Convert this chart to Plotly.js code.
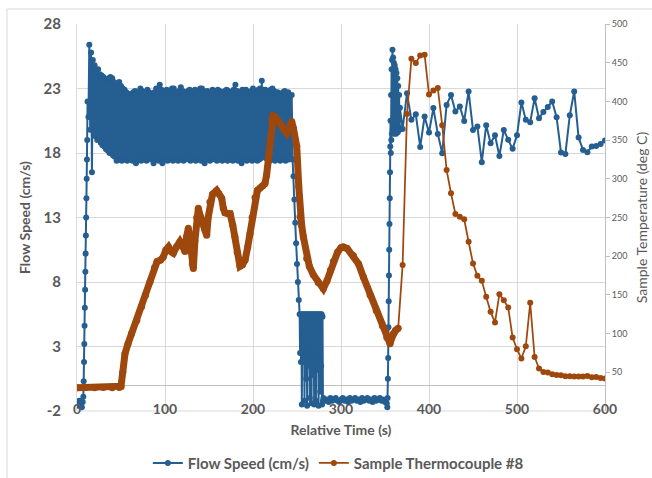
<!DOCTYPE html>
<html>
<head>
<meta charset="utf-8">
<script src="https://cdn.plot.ly/plotly-3.0.1.min.js"></script>
<style>html,body{margin:0;padding:0;background:#fff;}#chart{width:652px;height:478px;}</style>
</head>
<body>
<div id="chart"></div>
<script>
// ---- Flow speed (cm/s), left axis ----
const startTime = [0.5,1.5,2.5,3.5,4.5,5.5,6.5,7.2,7.6,8,8.3,8.6,8.9,9.2,9.5,9.8,10.1,10.4,10.7,11,11.3,11.6];
const startSpeed = [-1.3,-1.6,-1.2,-1.5,-1.4,-1.7,-1.3,-0.9,0.3,1.8,3.2,4.6,6.0,7.4,8.8,10.2,11.6,13.0,14.5,16.0,17.5,19.0];

const bandTime = [12,13,14,15,16,17,18,19,20,21,22,23,24,25,26,27,28,29,30,31,32,33,34,35,36,37,38,39,40,41,42,43,44,45,46,47,48,49,50,51,52,53,54,55,56,57,58,59,60,61,62,63,64,65,66,67,68,69,70,71,72,73,74,75,76,77,78,79,80,81,82,83,84,85,86,87,88,89,90,91,92,93,94,95,96,97,98,99,100,101,102,103,104,105,106,107,108,109,110,111,112,113,114,115,116,117,118,119,120,121,122,123,124,125,126,127,128,129,130,131,132,133,134,135,136,137,138,139,140,141,142,143,144,145,146,147,148,149,150,151,152,153,154,155,156,157,158,159,160,161,162,163,164,165,166,167,168,169,170,171,172,173,174,175,176,177,178,179,180,181,182,183,184,185,186,187,188,189,190,191,192,193,194,195,196,197,198,199,200,201,202,203,204,205,206,207,208,209,210,211,212,213,214,215,216,217,218,219,220,221,222,223,224,225,226,227,228,229,230,231,232,233,234,235,236,237,238,239,240,241,242,243,244,245,246];
const bandSpeed = [22.0,20.8,26.4,19.8,25.8,16.5,25.2,19.6,24.8,19.3,24.4,19.0,24.5,19.1,24.1,18.8,24.0,18.6,23.9,18.5,23.7,18.3,23.6,18.2,23.8,18.0,23.9,18.1,23.8,17.8,23.5,17.7,23.4,17.4,23.3,17.5,23.5,17.5,23.2,17.4,23.0,17.6,22.9,17.5,22.7,17.4,22.6,17.5,22.5,17.6,22.6,17.4,22.7,17.5,22.8,17.2,22.6,17.5,22.7,17.6,23.0,17.4,22.8,17.5,22.6,17.6,22.7,17.4,22.9,17.5,22.7,17.6,22.6,17.5,22.5,17.2,22.7,17.5,23.0,17.6,22.8,17.4,23.3,17.5,22.9,17.2,22.7,17.5,22.8,17.6,22.9,17.4,22.6,17.5,22.7,17.6,23.0,17.4,23.0,17.5,22.7,17.6,22.6,17.4,22.8,17.5,23.1,17.6,22.8,17.4,22.7,17.5,22.6,17.6,22.8,17.5,22.9,17.4,22.7,17.6,22.8,17.5,22.9,17.4,22.8,17.6,22.6,17.5,23.0,17.4,23.0,17.5,22.8,17.2,22.7,17.5,22.8,17.6,22.6,17.4,22.7,17.5,22.9,17.6,22.8,17.5,22.6,17.4,22.9,17.6,22.8,17.5,22.7,17.4,22.6,17.6,22.8,17.5,22.9,17.4,22.8,17.6,22.6,17.5,22.7,17.4,22.9,17.5,23.3,17.6,22.8,17.4,22.7,17.5,22.6,17.2,22.9,17.5,22.8,17.6,22.9,17.4,22.7,17.5,22.6,17.6,22.8,17.4,23.0,17.5,22.8,17.6,22.7,17.4,22.9,17.5,23.0,17.6,23.6,17.7,22.9,17.8,22.9,17.6,22.8,17.5,22.6,17.4,22.9,17.6,23.0,17.5,22.8,17.4,22.6,17.6,22.7,17.5,22.6,17.4,22.5,17.6,22.7,17.5,22.8,17.4,22.6,17.6,22.7,17.5,22.4,17.6,22.5,17.5,16.2];

const dropTime = [247,248,249,250,251,252,253,253.5,254,254.5,255,255.5,256,256.5,257,257.5,258,258.5,259,259.5,260,260.5,261,261.5,262,262.5,263,263.5,264,264.5,265,265.5,266,266.5,267,267.5,268,268.5,269,269.5,270,270.5,271,271.5,272,272.5,273,273.5,274,274.5,275,275.5,276,276.5,277,277.5,278,278.5,279,279.5,280,282,284,286,288,290,292,294,296,298,300,302,304,306,308,310,312,314,316,318,320,322,324,326,328,330,332,334,336,338,340,342,344,346,348,350,352,352.6,353,353.3,353.6,353.9,354.2,354.5,354.8,355.1,355.4,355.7,356,356.3,356.6,356.9,357.2,357.5,357.8,358.1,358.5,358.8,359.2,359.6,360,360.5,361,361.5,362,362.5,363,363.5,364,364.5,365,365.5,366,366.5,367];
const dropSpeed = [14.4,12.6,11.0,9.4,8.0,6.6,5.5,2.5,5.5,1.8,5.4,-1.5,5.5,1.8,5.5,3.0,5.4,-1.2,5.5,2.2,5.5,0.5,5.4,-1.6,5.5,2.8,5.5,1.5,5.4,-1.0,5.5,2.4,5.5,-1.4,5.4,3.0,5.5,0.8,5.5,-1.5,5.4,2.0,5.5,-1.2,5.5,2.6,5.4,1.2,5.5,-1.6,5.5,2.2,5.4,-0.5,5.5,1.5,5.5,-1.5,5.3,-1.2,-1.0,-1.2,-1.1,-1.3,-1.0,-1.2,-1.1,-1.0,-1.2,-1.3,-1.1,-1.0,-1.2,-1.1,-1.3,-1.0,-1.2,-1.1,-1.0,-1.2,-1.1,-1.3,-1.0,-1.2,-1.1,-1.0,-1.2,-1.1,-1.3,-1.0,-1.2,-1.1,-1.0,-1.2,-1.1,-1.3,-1.4,-1.7,-1.0,0.5,2.1,4.5,6.5,8.5,10.5,12.5,14.5,16.5,18.5,20.5,18.0,22.5,19.0,24.5,19.5,25.2,26.0,19.8,25.4,19.6,25.0,19.5,24.8,19.8,24.5,19.5,24.2,20.0,23.8,19.6,23.2,20.0,22.5,19.8,21.5];

const sparseTime = [370,375,380,385,390,395,400,405,410,415,420,425,430,435,440,445,450,455,460,465,470,475,480,485,490,495,500,505,510,515,520,525,530,535,540,545,550,555,560,565,570,575,580,585,590,595,600];
const flowSparse = [19.87,22.64,20.57,21.0,18.47,20.83,19.58,21.48,19.48,17.98,21.73,22.49,21.21,21.6,20.49,22.77,19.79,20.05,17.29,20.16,18.76,19.38,17.77,19.79,19.02,18.32,19.38,21.91,20.57,20.39,22.25,20.7,21.17,21.56,21.99,20.78,18.03,17.93,20.93,22.77,19.2,18.24,18.06,18.5,18.55,18.7,18.96];

// ---- Sample Thermocouple #8 (deg C), right axis ----
const tcDenseTime = [0,10,20,30,40,48,50,52,54.5,58,62,68,73.5,78,83,88,91,95,98,101,104,107,109.5,113,117,120,122.7,124.5,126.5,129,131,132.2,134,136,137.9,140,142.8,145,147.4,149,151,154,158.7,161,164.4,166.3,168.2,172,174,177,179.5,182,185.2,188,191,194,196.6,199,202.3,205,208,211,213.6,215.5,217.4,219.5,221.2,223,225,228,230.7,234,238.3,241,244,246,249.7,252,253.4,255.3,257.2,261,264,268.5,274,279.9,284,288,291.3,296,300,302.6,307,314,320,325.4,333,340,347,352,355.7,357.5,359.5,362,365];
const tcDenseTemp = [30,30.5,30,30.5,30,30.5,32,50,74,87,100,117,135,150,167,185,193,195,199,208,212,206,204,212,219,213,206,225,236,215,190,184,220,250,262,252,244,235,227,250,270,280,285,281,275,262,256,255,255,240,225,205,187,189,195,212,229,250,276,285,288,291,294,305,324,350,376,381,380,375,372,365,359,365,374,365,342,290,251,240,225,197,187,176,166,158,168,182,193,205,211,212,210,201,190,173,150,130,110,95,87,94,100,104,107];
const tcTime = [365].concat(sparseTime);
const tcTemp = [107,188.5,383.6,455,449.5,459.4,460.3,409,414,417.2,369.3,311.5,281.3,254.5,251,247.6,218.7,190.7,174.7,168.2,147.5,128.1,114.4,151,143.2,133.8,95,79.8,67.8,83.7,139.8,69.9,54.9,50.5,49.7,47.5,46.6,46.2,44.9,44.9,44.5,44.5,44.5,45.3,43.6,44,42.7,41.9];

const speedTicks = [-2,3,8,13,18,23,28];
const speedTickText = ['-2','3','8','13','18','23','28'];
const tempTicks = [50,100,150,200,250,300,350,400,450,500];

const BLUE = '#255E91', ORANGE = '#9E480E', TXT = '#595959', GRID = '#d9d9d9';
const FONT = 'Lato, "Open Sans", sans-serif';

const flowX = startTime.concat(bandTime, dropTime, sparseTime);
const flowY = startSpeed.concat(bandSpeed, dropSpeed, flowSparse);

const traces = [
  {x: flowX, y: flowY, type: 'scatter', mode: 'lines+markers', name: 'Flow Speed (cm/s)',
   line: {color: BLUE, width: 2}, marker: {color: BLUE, size: 6}, yaxis: 'y'},
  {x: tcDenseTime, y: tcDenseTemp, type: 'scatter', mode: 'lines+markers', name: 'Sample Thermocouple #8',
   line: {color: ORANGE, width: 7}, marker: {color: ORANGE, size: 7}, yaxis: 'y2',
   showlegend: false, legendgroup: 'tc'},
  {x: tcTime, y: tcTemp, type: 'scatter', mode: 'lines+markers', name: 'Sample Thermocouple #8',
   line: {color: ORANGE, width: 1.75}, marker: {color: ORANGE, size: 6}, yaxis: 'y2', legendgroup: 'tc'}
];

const layout = {
  width: 652, height: 478,
  margin: {l: 77, r: 47, t: 24, b: 67, autoexpand: false},
  paper_bgcolor: '#fff', plot_bgcolor: '#fff',
  font: {family: FONT, color: TXT},
  showlegend: true,
  xaxis: {
    range: [0, 600], tick0: 0, dtick: 100,
    anchor: 'free', position: 0.03,
    showgrid: true, gridcolor: GRID, gridwidth: 1,
    zeroline: false, showline: false, ticks: '',
    tickfont: {family: FONT, size: 14, color: TXT, weight: 'bold'},
    title: {text: 'Relative Time (s)', font: {family: FONT, size: 14, color: TXT, weight: 'bold'}, standoff: 8}
  },
  yaxis: {
    range: [-2, 28], tickmode: 'array', tickvals: speedTicks, ticktext: speedTickText,
    showgrid: true, gridcolor: GRID, gridwidth: 1,
    zeroline: true, zerolinecolor: '#bfbfbf', zerolinewidth: 1,
    showline: true, linecolor: GRID, linewidth: 1,
    ticks: 'outside', ticklen: 12, tickcolor: 'rgba(0,0,0,0)',
    tickfont: {family: FONT, size: 15, color: TXT, weight: 'bold'},
    title: {text: 'Flow Speed (cm/s)', font: {family: FONT, size: 14, color: TXT, weight: 'bold'}, standoff: 9}
  },
  yaxis2: {
    overlaying: 'y', side: 'right', range: [0, 500],
    tickvals: tempTicks, ticks: 'outside', ticklen: 4, tickcolor: '#bfbfbf',
    showgrid: false, zeroline: false, showline: true, linecolor: '#bfbfbf', linewidth: 1,
    tickfont: {family: FONT, size: 9, color: TXT},
    title: {text: 'Sample Temperature (deg C)', font: {family: FONT, size: 14, color: TXT}, standoff: 10}
  },
  legend: {
    orientation: 'h', x: 0.495, xanchor: 'center', y: -0.135, yanchor: 'middle',
    font: {family: FONT, size: 15, color: TXT, weight: 'bold'}, bgcolor: 'rgba(0,0,0,0)'
  },
  shapes: [
    {type: 'rect', xref: 'paper', yref: 'paper', x0: -0.1326, x1: 1.2, y0: -0.3, y1: 1.0388,
     line: {color: GRID, width: 1}, fillcolor: 'rgba(0,0,0,0)', layer: 'below'},
    {type: 'line', xref: 'paper', yref: 'paper', x0: 0, x1: 1, y0: 0, y1: 0,
     line: {color: GRID, width: 1}, layer: 'below'}
  ]
};

Plotly.newPlot('chart', traces, layout, {staticPlot: true, displayModeBar: false});
</script>
</body>
</html>
